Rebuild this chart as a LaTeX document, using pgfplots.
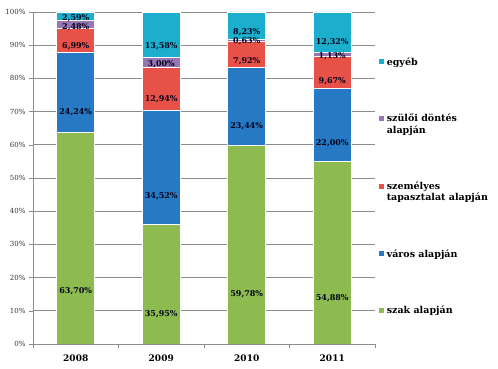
\documentclass[border=0pt]{standalone}
\usepackage{pgfplots}
\pgfplotsset{compat=1.18}
\usepackage{fontspec}
\setmainfont{DejaVu Serif}
\definecolor{cszak}{RGB}{141,187,80}
\definecolor{cvaros}{RGB}{38,121,194}
\definecolor{cszem}{RGB}{231,81,72}
\definecolor{cszulo}{RGB}{150,118,180}
\definecolor{cegyeb}{RGB}{27,175,205}
\definecolor{gridc}{RGB}{140,140,140}
\pgfplotsset{
  calculate offset/.code={
    \pgfkeys{/pgf/fpu=true,/pgf/fpu/output format=fixed}
    \pgfmathsetmacro\testmacro{\pgfplotspointmeta*0.83}
    \pgfkeys{/pgf/fpu=false}
  },
}
\begin{document}
\begin{tikzpicture}
\useasboundingbox (-33pt,-25pt) rectangle (465pt,344pt);
\begin{axis}[
  at={(0,0)}, anchor=south west,
  scale only axis, width=342pt, height=332pt,
  ybar stacked, bar width=38pt,
  xmin=-0.5, xmax=3.5, ymin=0, ymax=100,
  xtick={0,1,2,3}, xticklabels={2008,2009,2010,2011},
  minor xtick={-0.5,0.5,1.5,2.5,3.5},
  major x tick style={draw=none},
  minor x tick style={gridc},
  minor tick length=4pt,
  x tick label style={font=\bfseries\fontsize{9}{10}\selectfont, yshift=-3pt},
  ytick={0,10,...,100},
  yticklabel={\pgfmathprintnumber{\tick}\%},
  y tick label style={font=\fontsize{7}{8}\selectfont, text=black!80},
  /pgf/number format/assume math mode=true,
  ymajorgrids, grid style={gridc, line width=0.6pt},
  axis x line*=bottom, axis y line*=left,
  axis line style={gridc, line width=0.6pt},
  tick align=outside, major tick length=4pt,
  major y tick style={gridc},
  point meta=explicit,
  nodes near coords={\pgfmathprintnumber[fixed,fixed zerofill,precision=2,use comma]{\pgfplotspointmeta}\%},
  nodes near coords align={center},
  every node near coord/.append style={font=\bfseries\fontsize{8}{9}\selectfont, text=black!90!blue, /pgfplots/calculate offset, yshift=-\testmacro pt, anchor=center},
  legend style={draw=none, fill=none, at={(1.012,0.871)}, anchor=north west,
    font=\bfseries\fontsize{9.5}{11.5}\selectfont, row sep=42pt, inner sep=0pt,
    nodes={align=left, inner sep=2.5pt}, cells={anchor=north west}},
  reverse legend,
  legend image code/.code={\fill[#1, draw=none] (0pt,-9.4pt) rectangle (5pt,-4.4pt);},
]
\addplot[fill=cszak, draw=white, line width=0.8pt] coordinates {(0,63.70)[63.70] (1,35.95)[35.95] (2,59.78)[59.78] (3,54.88)[54.88]};
\addplot[fill=cvaros, draw=white, line width=0.8pt] coordinates {(0,24.24)[24.24] (1,34.52)[34.52] (2,23.44)[23.44] (3,22.00)[22.00]};
\addplot[fill=cszem, draw=white, line width=0.8pt] coordinates {(0,6.99)[6.99] (1,12.94)[12.94] (2,7.92)[7.92] (3,9.67)[9.67]};
\addplot[fill=cszulo, draw=white, line width=0.8pt] coordinates {(0,2.48)[2.48] (1,3.00)[3.00] (2,0.63)[0.63] (3,1.13)[1.13]};
\addplot[fill=cegyeb, draw=white, line width=0.8pt] coordinates {(0,2.59)[2.59] (1,13.58)[13.58] (2,8.23)[8.23] (3,12.32)[12.32]};
\legend{szak alapján, város alapján, {személyes\\tapasztalat alapján}, {szülői döntés\\alapján}, egyéb}
\end{axis}
\end{tikzpicture}
\end{document}
